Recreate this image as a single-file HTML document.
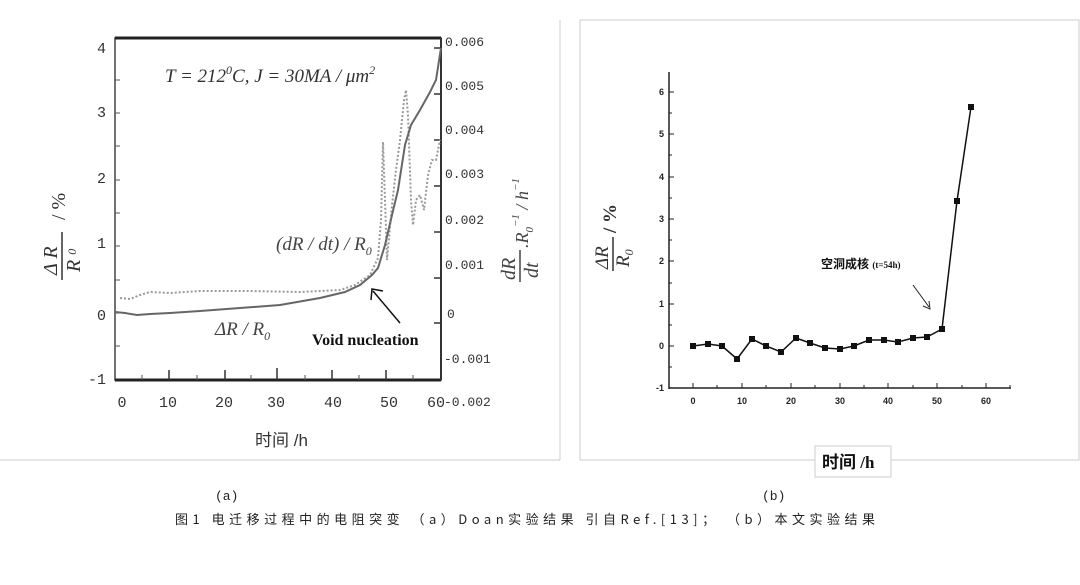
<!DOCTYPE html>
<html><head><meta charset="utf-8"><style>
body{margin:0;background:#fff;width:1080px;height:580px;overflow:hidden;font-family:"Liberation Serif","Noto Serif CJK SC",serif}
</style></head><body>
<svg width="1080" height="580" viewBox="0 0 1080 580" xmlns="http://www.w3.org/2000/svg">
<rect x="0" y="0" width="1080" height="580" fill="#fff"/>
<line x1="560" y1="20" x2="560" y2="460" stroke="#ccc"/>
<line x1="0" y1="460" x2="560" y2="460" stroke="#ccc"/>
<g font-family="'Liberation Mono','DejaVu Sans Mono',monospace" font-size="14" fill="#333">
<rect x="115" y="38" width="326" height="342" fill="none" stroke="#444" stroke-width="1.5"/>
<line x1="115" y1="38" x2="441" y2="38" stroke="#222" stroke-width="3"/>
<line x1="115" y1="380" x2="441" y2="380" stroke="#222" stroke-width="3"/>
<line x1="441" y1="38" x2="441" y2="380" stroke="#333" stroke-width="2"/>
<g stroke="#333" stroke-width="1.5">
<line x1="169" y1="380" x2="169" y2="370"/><line x1="225" y1="380" x2="225" y2="370"/><line x1="277" y1="380" x2="277" y2="368"/><line x1="332" y1="380" x2="332" y2="370"/><line x1="386" y1="380" x2="386" y2="370"/>
<line x1="441" y1="48" x2="434" y2="48"/><line x1="441" y1="94" x2="434" y2="94"/><line x1="441" y1="140" x2="434" y2="140"/><line x1="441" y1="186" x2="434" y2="186"/><line x1="441" y1="232" x2="434" y2="232"/><line x1="441" y1="278" x2="434" y2="278"/><line x1="441" y1="323" x2="434" y2="323"/>
</g>
<g stroke="#555" stroke-width="1">
<line x1="142" y1="380" x2="142" y2="375"/><line x1="197" y1="380" x2="197" y2="375"/><line x1="251" y1="380" x2="251" y2="375"/><line x1="305" y1="380" x2="305" y2="375"/><line x1="359" y1="380" x2="359" y2="375"/><line x1="413" y1="380" x2="413" y2="375"/>
<line x1="115" y1="80" x2="120" y2="80"/><line x1="115" y1="113" x2="120" y2="113"/><line x1="115" y1="146" x2="120" y2="146"/><line x1="115" y1="180" x2="120" y2="180"/><line x1="115" y1="213" x2="120" y2="213"/><line x1="115" y1="246" x2="120" y2="246"/><line x1="115" y1="280" x2="120" y2="280"/><line x1="115" y1="313" x2="120" y2="313"/><line x1="115" y1="346" x2="120" y2="346"/>
</g>
<g text-anchor="end" font-size="15">
<text x="106" y="53">4</text><text x="106" y="117">3</text><text x="106" y="183">2</text><text x="106" y="248">1</text><text x="106" y="320">0</text><text x="106" y="384">-1</text>
</g>
<g text-anchor="middle" font-size="15">
<text x="122" y="407">0</text><text x="168" y="407">10</text><text x="224" y="407">20</text><text x="276" y="407">30</text><text x="333" y="407">40</text><text x="389" y="407">50</text><text x="436" y="407">60</text>
</g>
<g font-size="13">
<text x="445" y="46">0.006</text><text x="445" y="90">0.005</text><text x="445" y="134">0.004</text><text x="445" y="178">0.003</text><text x="445" y="224">0.002</text><text x="445" y="269">0.001</text><text x="447" y="318">0</text><text x="444" y="363">-0.001</text><text x="444" y="406">-0.002</text>
</g>
</g>
<text x="255" y="446" font-size="17" fill="#333" font-family="'Liberation Sans','Noto Sans CJK SC',sans-serif">时间 /h</text>
<polyline fill="none" stroke="#999" stroke-width="2" stroke-dasharray="2,2" points="120,298 130,299 140,295 150,292 170,293 200,291 250,291 300,292 340,290 355,285 370,275 378,258 381,220 383,142 385,200 387,260 392,205 396,170 400,140 404,100 406,90 408,115 411,200 413,225 416,200 420,195 424,210 428,175 432,160 436,160 440,140"/>
<polyline fill="none" stroke="#666" stroke-width="2" points="115,312 125,313 137,315 150,314 170,313 200,311 240,308 280,305 320,298 345,292 360,285 372,275 378,268 385,245 392,215 398,190 405,145 411,125 420,110 430,92 436,80 441,48"/>
<text x="165" y="82" font-size="19" font-style="italic" fill="#333" font-family="'Liberation Serif',serif">T = 212<tspan dy="-8" font-size="12">0</tspan><tspan dy="8">C, J = 30MA / μm</tspan><tspan dy="-8" font-size="12">2</tspan></text>
<text x="276" y="250" font-size="19" font-style="italic" fill="#444">(dR / dt) / R<tspan dy="5" font-size="12">0</tspan></text>
<text x="215" y="335" font-size="19" font-style="italic" fill="#444">ΔR / R<tspan dy="5" font-size="12">0</tspan></text>
<text x="312" y="345" font-size="16" font-weight="bold" fill="#111">Void nucleation</text>
<line x1="400" y1="323" x2="373" y2="291" stroke="#111" stroke-width="1.5"/>
<polyline points="371,300 372,289 383,291" fill="none" stroke="#111" stroke-width="1.5"/>
<g transform="translate(60,220) rotate(-90)" fill="#333">
<text x="-55" y="-3" font-size="20" font-style="italic" font-family="'Liberation Serif',serif">Δ R</text>
<line x1="-60" y1="2" x2="-12" y2="2" stroke="#333" stroke-width="1.5"/>
<text x="-52" y="20" font-size="20" font-style="italic">R <tspan font-size="12" dy="-4">0</tspan></text>
<text x="0" y="5" font-size="20">/ %</text>
</g>
<g transform="translate(520,230) rotate(-90)" fill="#444" font-style="italic">
<text x="-50" y="-5" font-size="20">dR</text>
<line x1="-52" y1="0" x2="-20" y2="0" stroke="#444" stroke-width="1.5"/>
<text x="-48" y="18" font-size="20">dt</text>
<text x="-18" y="8" font-size="18">.R<tspan font-size="11" dy="5">0</tspan><tspan font-size="11" dy="-14">−1</tspan><tspan dy="9"> / h</tspan><tspan font-size="11" dy="-9">−1</tspan></text>
</g>
<rect x="580" y="20" width="499" height="440" fill="none" stroke="#ccc"/>
<g stroke="#222" stroke-width="1.5" fill="none">
<line x1="669" y1="72" x2="669" y2="389"/>
<line x1="669" y1="388" x2="1011" y2="388"/>
</g>
<g stroke="#222" stroke-width="1">
<line x1="669" y1="92" x2="674" y2="92"/><line x1="669" y1="134" x2="674" y2="134"/><line x1="669" y1="177" x2="674" y2="177"/><line x1="669" y1="219" x2="674" y2="219"/><line x1="669" y1="261" x2="674" y2="261"/><line x1="669" y1="304" x2="674" y2="304"/><line x1="669" y1="346" x2="674" y2="346"/>
<line x1="669" y1="113" x2="672" y2="113"/><line x1="669" y1="155" x2="672" y2="155"/><line x1="669" y1="198" x2="672" y2="198"/><line x1="669" y1="240" x2="672" y2="240"/><line x1="669" y1="283" x2="672" y2="283"/><line x1="669" y1="325" x2="672" y2="325"/><line x1="669" y1="367" x2="672" y2="367"/>
<line x1="693" y1="388" x2="693" y2="383"/><line x1="742" y1="388" x2="742" y2="383"/><line x1="791" y1="388" x2="791" y2="383"/><line x1="840" y1="388" x2="840" y2="383"/><line x1="888" y1="388" x2="888" y2="383"/><line x1="937" y1="388" x2="937" y2="383"/><line x1="986" y1="388" x2="986" y2="383"/>
<line x1="717" y1="388" x2="717" y2="385"/><line x1="766" y1="388" x2="766" y2="385"/><line x1="815" y1="388" x2="815" y2="385"/><line x1="864" y1="388" x2="864" y2="385"/><line x1="913" y1="388" x2="913" y2="385"/><line x1="962" y1="388" x2="962" y2="385"/><line x1="1010" y1="388" x2="1010" y2="385"/>
</g>
<g font-family="'Liberation Sans',sans-serif" font-size="9" font-weight="bold" fill="#222" text-anchor="end">
<text x="664" y="95">6</text><text x="664" y="137">5</text><text x="664" y="180">4</text><text x="664" y="222">3</text><text x="664" y="264">2</text><text x="664" y="307">1</text><text x="664" y="349">0</text><text x="664" y="391">-1</text>
</g>
<g font-family="'Liberation Sans',sans-serif" font-size="9" font-weight="bold" fill="#222" text-anchor="middle">
<text x="693" y="404">0</text><text x="742" y="404">10</text><text x="791" y="404">20</text><text x="840" y="404">30</text><text x="888" y="404">40</text><text x="937" y="404">50</text><text x="986" y="404">60</text>
</g>
<polyline fill="none" stroke="#111" stroke-width="1.5" points="693,346 708,344 722,346 737,359 752,339 766,346 781,352 796,338 810,343 825,348 840,349 854,346 869,340 884,340 898,342 913,338 927,337 942,329 957,201 971,107"/>
<g fill="#111">
<rect x="690" y="343" width="6" height="6"/><rect x="705" y="341" width="6" height="6"/><rect x="719" y="343" width="6" height="6"/><rect x="734" y="356" width="6" height="6"/><rect x="749" y="336" width="6" height="6"/><rect x="763" y="343" width="6" height="6"/><rect x="778" y="349" width="6" height="6"/><rect x="793" y="335" width="6" height="6"/><rect x="807" y="340" width="6" height="6"/><rect x="822" y="345" width="6" height="6"/><rect x="837" y="346" width="6" height="6"/><rect x="851" y="343" width="6" height="6"/><rect x="866" y="337" width="6" height="6"/><rect x="881" y="337" width="6" height="6"/><rect x="895" y="339" width="6" height="6"/><rect x="910" y="335" width="6" height="6"/><rect x="924" y="334" width="6" height="6"/><rect x="939" y="326" width="6" height="6"/><rect x="954" y="198" width="6" height="6"/><rect x="968" y="104" width="6" height="6"/>
</g>
<text x="821" y="268" font-size="12" font-weight="bold" fill="#111" font-family="'Liberation Sans','Noto Sans CJK SC',sans-serif">空洞成核 <tspan font-size="9" font-family="'Liberation Serif',serif">(t=54h)</tspan></text>
<line x1="913" y1="285" x2="929" y2="307" stroke="#222"/>
<polyline points="923,306 930,309 929,301" fill="none" stroke="#222"/>
<g transform="translate(612,235) rotate(-90)" fill="#333" font-family="'Liberation Serif',serif">
<text x="-34" y="-4" font-size="19" font-style="italic">ΔR</text>
<line x1="-36" y1="1" x2="-2" y2="1" stroke="#333" stroke-width="1.5"/>
<text x="-32" y="17" font-size="19" font-style="italic">R<tspan font-size="12" dy="4">0</tspan></text>
<text x="2" y="4" font-size="19" font-weight="bold">/ %</text>
</g>
<line x1="580" y1="460" x2="1079" y2="460" stroke="#ccc"/>
<rect x="815" y="446" width="76" height="31" fill="#fff" stroke="#ccc"/>
<text x="822" y="468" font-size="17" font-weight="bold" fill="#111" font-family="'Liberation Serif','Noto Sans CJK SC',serif">时间 /h</text>
<g font-family="'Liberation Mono','Noto Sans CJK SC',monospace" font-size="13" fill="#222">
<text x="215" y="500">(a)</text>
<text x="762" y="500">(b)</text>
<text x="175" y="524" textLength="700" lengthAdjust="spacing" font-family="'Noto Sans CJK SC','Liberation Mono',monospace">图1 电迁移过程中的电阻突变 （a）Doan实验结果 引自Ref.[13]； （b）本文实验结果</text>
</g>
</svg>
</body></html>
